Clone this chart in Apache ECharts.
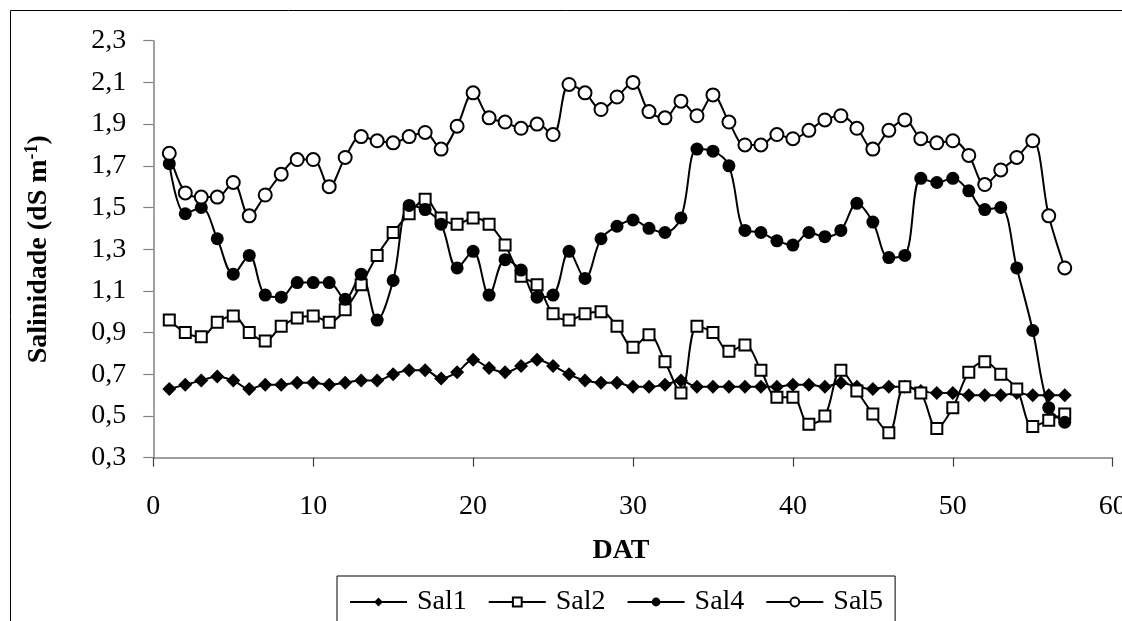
<!DOCTYPE html>
<html>
<head>
<meta charset="utf-8">
<script src="https://cdn.jsdelivr.net/npm/echarts@6/dist/echarts.min.js"></script>
<style>
html,body{margin:0;padding:0;background:#fff;overflow:hidden;width:1122px;height:621px;}
#chart{width:1122px;height:621px;overflow:hidden;}
</style>
</head>
<body>
<div id="chart"></div>
<script>
const days = [1,2,3,4,5,6,7,8,9,10,11,12,13,14,15,16,17,18,19,20,21,22,23,24,25,26,27,28,29,30,31,32,33,34,35,36,37,38,39,40,41,42,43,44,45,46,47,48,49,50,51,52,53,54,55,56,57];
const sal1 = [0.63,0.65,0.67,0.69,0.67,0.63,0.65,0.65,0.66,0.66,0.65,0.66,0.67,0.67,0.70,0.72,0.72,0.68,0.71,0.77,0.73,0.71,0.74,0.77,0.74,0.70,0.67,0.66,0.66,0.64,0.64,0.65,0.67,0.64,0.64,0.64,0.64,0.64,0.64,0.65,0.65,0.64,0.66,0.64,0.63,0.64,0.64,0.62,0.61,0.61,0.60,0.60,0.60,0.61,0.60,0.60,0.60];
const sal2 = [0.96,0.90,0.88,0.95,0.98,0.90,0.86,0.93,0.97,0.98,0.95,1.01,1.13,1.27,1.38,1.47,1.54,1.45,1.42,1.45,1.42,1.32,1.17,1.13,0.99,0.96,0.99,1.00,0.93,0.83,0.89,0.76,0.61,0.93,0.90,0.81,0.84,0.72,0.59,0.59,0.46,0.50,0.72,0.62,0.51,0.42,0.64,0.61,0.44,0.54,0.71,0.76,0.70,0.63,0.45,0.48,0.51];
const sal4 = [1.71,1.47,1.50,1.35,1.18,1.27,1.08,1.07,1.14,1.14,1.14,1.06,1.18,0.96,1.15,1.51,1.49,1.42,1.21,1.29,1.08,1.25,1.20,1.07,1.08,1.29,1.16,1.35,1.41,1.44,1.40,1.38,1.45,1.78,1.77,1.70,1.39,1.38,1.34,1.32,1.38,1.36,1.39,1.52,1.43,1.26,1.27,1.64,1.62,1.64,1.58,1.49,1.50,1.21,0.91,0.54,0.47];
const sal5 = [1.76,1.57,1.55,1.55,1.62,1.46,1.56,1.66,1.73,1.73,1.60,1.74,1.84,1.82,1.81,1.84,1.86,1.78,1.89,2.05,1.93,1.91,1.88,1.90,1.85,2.09,2.05,1.97,2.03,2.10,1.96,1.93,2.01,1.94,2.04,1.91,1.80,1.80,1.85,1.83,1.87,1.92,1.94,1.88,1.78,1.87,1.92,1.83,1.81,1.82,1.75,1.61,1.68,1.74,1.82,1.46,1.21];
const seriesNames = ['Sal1','Sal2','Sal4','Sal5'];
const yTicks = {min:0.3, max:2.3, step:0.2};
const xTicks = {min:0, max:60, step:10};

const FONT = '"Liberation Serif", "Times New Roman", serif';
const pairs = arr => days.map((d,i)=>[d, arr[i]]);

const chart = echarts.init(document.getElementById('chart'), null, {renderer:'canvas', width:1122, height:621});
const baseSeries = (name, data, symbol, size, fill) => ({
  name, type:'line', data: pairs(data), smooth:0.35,
  symbol, symbolSize:size, showSymbol:true,
  lineStyle:{color:'#000', width:2},
  itemStyle:{color:fill, borderColor:'#000', borderWidth: fill==='#fff'?2:0},
  emphasis:{disabled:true}, animation:false
});
chart.setOption({
  animation:false,
  backgroundColor:'#fff',
  grid:{left:153.3, right:9.3, top:40.7, bottom:163.3, containLabel:false, outerBoundsMode:'none'},
  xAxis:{
    type:'value', min:xTicks.min, max:xTicks.max, interval:xTicks.step,
    axisLine:{lineStyle:{color:'#808080', width:1.5}},
    axisTick:{show:true, length:9, lineStyle:{color:'#404040', width:1.2}},
    splitLine:{show:false},
    axisLabel:{fontFamily:FONT, fontSize:28, color:'#000', margin:35},
    z:1
  },
  yAxis:{
    type:'value', min:yTicks.min, max:yTicks.max, interval:yTicks.step,
    axisLine:{show:true, lineStyle:{color:'#808080', width:1.5}},
    axisTick:{show:true, length:10, lineStyle:{color:'#808080', width:1.2}},
    splitLine:{show:false},
    axisLabel:{fontFamily:FONT, fontSize:28, color:'#000', margin:27,
      formatter: v => v.toFixed(1).replace('.', ',')},
    name:'Salinidade (dS m{sup|-1})', nameLocation:'middle', nameRotate:90, nameGap:100,
    nameTextStyle:{fontFamily:FONT, fontSize:28, fontWeight:'bold', color:'#000',
      rich:{sup:{fontFamily:FONT, fontSize:18, fontWeight:'bold', color:'#000', verticalAlign:'top', padding:[0,0,12,0]}}}
  },
  legend:{
    data:seriesNames, left:337, top:576, orient:'horizontal',
    itemWidth:57, itemHeight:11, itemGap:21,
    padding:[12,12,12,12],
    borderColor:'#000', borderWidth:1,
    textStyle:{fontFamily:FONT, fontSize:28, color:'#000', padding:[0,0,0,5]},
    selectedMode:false
  },
  graphic:[
    {type:'rect', shape:{x:10.5, y:10.5, width:1400, height:800}, style:{fill:null, stroke:'#000', lineWidth:1}, silent:true, z:-1},
    {type:'text', x:621, y:551, style:{text:'DAT', font:'bold 28px '+FONT, fill:'#000', align:'center', verticalAlign:'middle'}}
  ],
  series:[
    baseSeries(seriesNames[0], sal1, 'diamond', 14, '#000'),
    baseSeries(seriesNames[1], sal2, 'rect', 11, '#fff'),
    baseSeries(seriesNames[2], sal4, 'circle', 13, '#000'),
    baseSeries(seriesNames[3], sal5, 'circle', 13, '#fff')
  ]
});
</script>
</body>
</html>
